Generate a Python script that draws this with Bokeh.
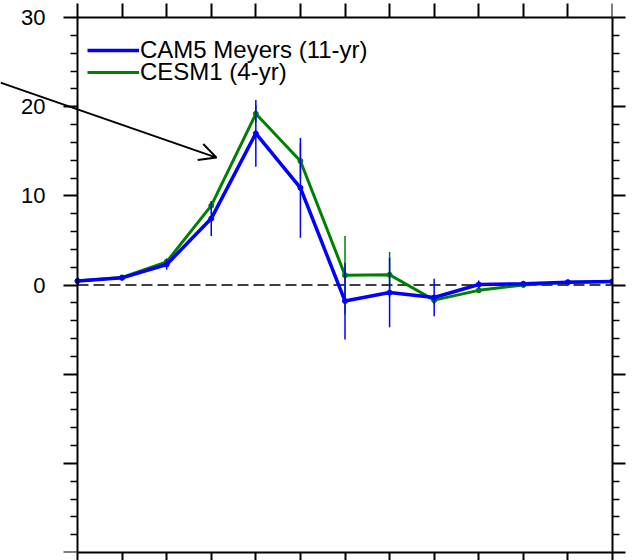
from bokeh.plotting import figure
from bokeh.models import (LinearAxis, FixedTicker, Range1d, Arrow, OpenHead,
                          Legend, LegendItem, ColumnDataSource)
from bokeh.embed import file_html
from bokeh.resources import INLINE

# ---------------- data ----------------
step = list(range(13))
cam5_meyers = [0.45, 0.8, 2.3, 7.45, 17.0, 10.9, -1.8, -0.85, -1.4, 0.05, 0.15, 0.3, 0.4]
cam5_err = [0.1, 0.15, 0.6, 1.95, 3.75, 5.6, 4.3, 3.9, 2.1, 0.45, 0.1, 0.1, 0.1]
cesm1 = [0.45, 0.85, 2.6, 8.9, 19.2, 13.9, 1.1, 1.15, -1.7, -0.6, 0.0, 0.3, 0.4]
cesm1_err = [0.1, 0.15, 0.4, 0.5, 1.0, 2.0, 4.4, 2.55, 0.5, 0.3, 0.1, 0.1, 0.1]
labels = ["CAM5 Meyers (11-yr)", "CESM1 (4-yr)"]

y_lim = (-30, 30)
y_major = [-30, -20, -10, 0, 10, 20, 30]
y_minor = [v for v in range(-30, 31, 2) if v % 10 != 0]
y_label_text = {-30: "", -20: "", -10: ""}

arrow_start = (-1.727, 22.7)
arrow_end = (3.118, 14.29)

BLUE = "#0000ff"
GREEN = "#008000"
FONT = "Liberation Sans"

src = ColumnDataSource(dict(
    x=step,
    blue=cam5_meyers,
    blue_lo=[v - e for v, e in zip(cam5_meyers, cam5_err)],
    blue_hi=[v + e for v, e in zip(cam5_meyers, cam5_err)],
    green=cesm1,
    green_lo=[v - e for v, e in zip(cesm1, cesm1_err)],
    green_hi=[v + e for v, e in zip(cesm1, cesm1_err)],
))

# The frame reaches the left and top edges of the page so that the arrow and
# the "30" label are not cut; the left and top axes are pinned to the box.
BOX = 535  # px size of the square box
x_lo = step[0] - 77 / (BOX / (step[-1] - step[0]))
y_hi = y_lim[1] + 17 / (BOX / (y_lim[1] - y_lim[0]))
p = figure(width=633, height=560, x_range=Range1d(x_lo, step[-1]),
           y_range=Range1d(y_lim[0], y_hi),
           x_axis_type=None, y_axis_type=None, output_backend="svg",
           toolbar_location=None, min_border_left=0, min_border_right=21,
           min_border_top=0, min_border_bottom=8)
p.outline_line_color = None
p.background_fill_color = "white"
p.border_fill_color = "white"


def style(ax, tick_out, minor_out, show_labels=False):
    ax.axis_line_width = 2
    ax.axis_line_color = "black"
    ax.major_tick_line_width = 2
    ax.major_tick_line_color = "black"
    ax.minor_tick_line_width = 1.5
    ax.minor_tick_line_color = "black"
    ax.major_tick_in = 0
    ax.minor_tick_in = 0
    ax.major_tick_out = tick_out
    ax.minor_tick_out = minor_out
    if show_labels:
        ax.major_label_text_font = FONT
        ax.major_label_text_font_size = "22px"
        ax.major_label_text_color = "black"
        ax.major_label_standoff = 18
    else:
        ax.major_label_text_font_size = "1px"
        ax.major_label_text_color = None
        ax.major_label_standoff = 0


left = LinearAxis(ticker=FixedTicker(ticks=y_major, minor_ticks=y_minor),
                  major_label_overrides=y_label_text, fixed_location=step[0],
                  bounds=y_lim)
style(left, 14, 7, True)
p.add_layout(left, "left")

right = LinearAxis(ticker=FixedTicker(ticks=y_major, minor_ticks=y_minor),
                   bounds=y_lim)
style(right, 13, 7)
p.add_layout(right, "right")

top = LinearAxis(ticker=FixedTicker(ticks=step, minor_ticks=[]),
                 bounds=(step[0], step[-1]), fixed_location=y_lim[1])
style(top, 14, 0)
p.add_layout(top, "above")

bottom = LinearAxis(ticker=FixedTicker(ticks=step, minor_ticks=[]),
                    bounds=(step[0], step[-1]))
style(bottom, 8, 0)
p.add_layout(bottom, "below")

# dashed zero line across the data span
p.segment(x0=step[0], y0=0, x1=step[-1], y1=0, line_color="black",
          line_width=1.5, line_dash="11 5")

# green series
p.segment(x0="x", y0="green_lo", x1="x", y1="green_hi", source=src,
          line_color=GREEN, line_width=1.5)
g_line = p.line("x", "green", source=src, line_color=GREEN, line_width=3)
p.scatter("x", "green", source=src, size=5, color=GREEN)

# blue series
b_line = p.line("x", "blue", source=src, line_color=BLUE, line_width=3.5)
p.scatter("x", "blue", source=src, size=5, color=BLUE)
p.segment(x0="x", y0="blue_lo", x1="x", y1="blue_hi", source=src,
          line_color=BLUE, line_width=1.5)

p.add_layout(Arrow(end=OpenHead(size=17, line_width=2, line_color="black"),
                   x_start=arrow_start[0], y_start=arrow_start[1],
                   x_end=arrow_end[0], y_end=arrow_end[1],
                   line_width=2, line_color="black"))


def make_legend(label, renderer, loc):
    return Legend(items=[LegendItem(label=label, renderers=[renderer])],
                  location=loc, border_line_color=None,
                  background_fill_alpha=0, label_text_font=FONT,
                  label_text_font_size="24px", label_text_color="black",
                  glyph_width=52, glyph_height=20, label_height=20,
                  spacing=0, padding=0, margin=0, label_standoff=1)


p.add_layout(make_legend(labels[0], b_line, (87, 488)))
p.add_layout(make_legend(labels[1], g_line, (87, 466)))

open("out.html", "w").write(file_html(p, INLINE))
